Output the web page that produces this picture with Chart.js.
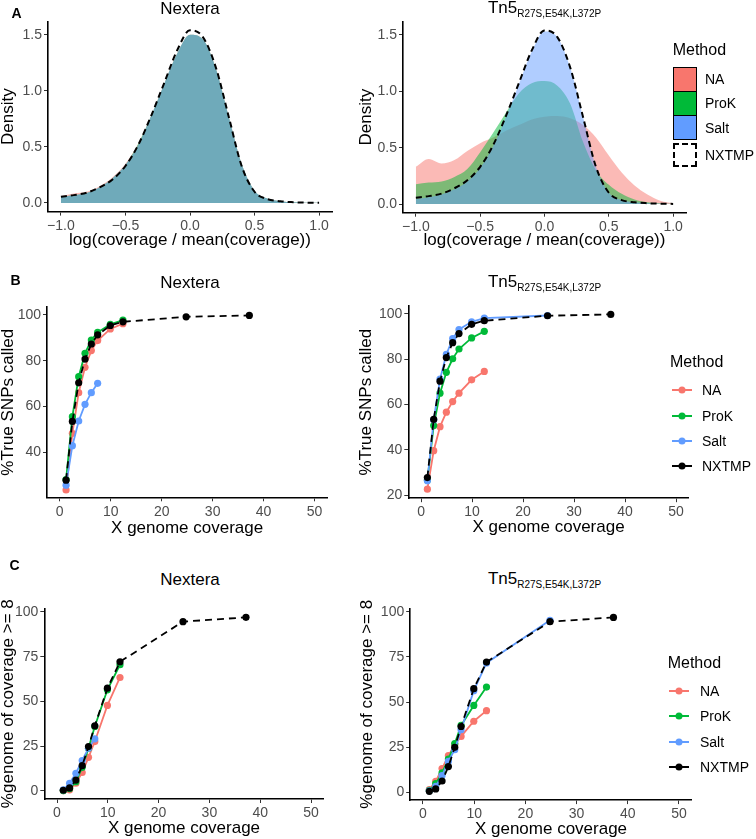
<!DOCTYPE html>
<html><head><meta charset="utf-8">
<script src="https://cdn.jsdelivr.net/npm/chart.js@4.4.1/dist/chart.umd.min.js"></script>
<style>
html,body{margin:0;padding:0;background:#fff;}
body{width:756px;height:839px;position:relative;overflow:hidden;font-family:"Liberation Sans",Arial,sans-serif;color:#000;}
canvas{position:absolute;}
.t{position:absolute;font-size:17px;line-height:17px;white-space:nowrap;transform:translate(-50%,-50%);}
.sub{font-size:10px;position:relative;top:4px;}
.lbl{position:absolute;font-weight:bold;font-size:14px;line-height:14px;transform:translate(-50%,-50%);}
.lgt{position:absolute;font-size:16px;line-height:16px;transform:translateY(-50%);white-space:nowrap;z-index:5;}
.lgi{position:absolute;font-size:14px;line-height:14px;transform:translateY(-50%);white-space:nowrap;z-index:5;}
.key{position:absolute;width:24px;height:25px;box-sizing:border-box;border:1.5px solid #000;z-index:5;}
.ln{position:absolute;width:20px;height:2px;transform:translateY(-50%);z-index:5;}
.dot{position:absolute;width:7px;height:7px;border-radius:50%;transform:translate(-50%,-50%);z-index:6;}
</style></head><body>
<script>
// ---------------- DATA ----------------
const methods = ['NA', 'ProK', 'Salt', 'NXTMP'];

// Panel A: density of log(coverage / mean(coverage))
const densityX = [-1.0,-0.9,-0.8,-0.7,-0.6,-0.5,-0.4,-0.3,-0.2,-0.1,0.0,0.1,0.2,0.3,0.4,0.5,0.6,0.7,0.8,0.9,1.0];
const nxtmpDensity      = [0.056,0.07,0.092,0.14,0.21,0.33,0.52,0.78,1.07,1.36,1.54,1.48,1.21,0.77,0.33,0.10,0.035,0.015,0.007,0.003,0.001];
const nexteraDensityNA  = [0.06,0.085,0.10,0.15,0.23,0.35,0.53,0.78,1.06,1.33,1.50,1.46,1.20,0.77,0.35,0.11,0.04,0.015,0.006,0.002,0.001];
const nexteraDensityProK= [0.055,0.07,0.09,0.14,0.22,0.34,0.53,0.78,1.06,1.33,1.50,1.46,1.20,0.77,0.35,0.11,0.04,0.015,0.006,0.002,0.001];
const nexteraDensitySalt= [0.055,0.07,0.09,0.14,0.22,0.34,0.52,0.78,1.06,1.33,1.50,1.46,1.20,0.77,0.35,0.11,0.04,0.015,0.006,0.002,0.001];
const tn5DensityNA      = [0.33,0.40,0.36,0.39,0.47,0.54,0.59,0.65,0.70,0.75,0.775,0.78,0.76,0.70,0.59,0.43,0.28,0.165,0.085,0.03,0.008];
const tn5DensityProK    = [0.175,0.19,0.20,0.24,0.31,0.46,0.63,0.81,0.98,1.07,1.09,1.05,0.89,0.55,0.30,0.17,0.09,0.04,0.015,0.005,0.002];
const tn5DensitySalt    = [0.045,0.06,0.085,0.13,0.20,0.32,0.51,0.77,1.06,1.35,1.53,1.48,1.21,0.77,0.33,0.10,0.035,0.015,0.007,0.003,0.001];
const densityXTicks  = [-1, -0.5, 0, 0.5, 1];
const densityXLabels = ['\u22121.0', '\u22120.5', '0.0', '0.5', '1.0'];
const densityYTicks  = [0, 0.5, 1, 1.5];
const densityYLabels = ['0.0', '0.5', '1.0', '1.5'];

// Panels B & C: X genome coverage
const coverageX = [1.24, 2.48, 3.72, 4.96, 6.2, 7.44, 9.92, 12.4, 24.8, 37.2];
const nxtmpSnp       = [27.7, 53.4, 70.3, 80.7, 87.3, 91.3, 95.4, 97.0, 99.2, 99.8];
const nexteraSnpNA   = [23.4, 48.2, 66.0, 77.1, 84.4, 88.8, 93.9, 96.2];
const nexteraSnpProK = [28.0, 55.5, 73.0, 83.2, 89.0, 92.4, 95.9, 97.7];
const nexteraSnpSalt = [25.5, 42.8, 53.6, 60.9, 66.0, 70.1];
const tn5SnpNA       = [22.6, 39.6, 50.2, 56.6, 61.3, 65.0, 70.9, 74.6];
const tn5SnpProK     = [26.6, 50.7, 65.0, 74.2, 80.2, 84.5, 89.4, 92.3];
const tn5SnpSalt     = [26.3, 53.2, 71.2, 82.1, 89.1, 93.1, 96.5, 98.1, 99.3];

const nxtmpCov       = [0.4, 1.7, 6.1, 14.1, 24.8, 36.4, 57.4, 72.2, 94.6, 97.0];
const nexteraCovNA   = [0.2, 0.6, 4.3, 10.3, 18.8, 27.6, 47.8, 63.4];
const nexteraCovProK = [0.2, 1.3, 5.2, 13.2, 23.9, 36.0, 56.5, 70.5];
const nexteraCovSalt = [0.6, 4.3, 9.9, 17.0, 23.9, 29.1];
const tn5CovNA       = [1.3, 5.9, 13.0, 20.2, 26.3, 30.9, 39.3, 45.2];
const tn5CovProK     = [0.9, 4.6, 10.6, 18.3, 26.9, 37.0, 48.1, 58.3];
const tn5CovSalt     = [0.7, 3.1, 9.1, 17.0, 23.5, 34.6, 56.3, 71.7, 95.4];

const coverageXTicks = [0, 10, 20, 30, 40, 50];
const coverageXLabels = ['0', '10', '20', '30', '40', '50'];
const snpYTicksLeft = [40, 60, 80, 100];
const snpYLabelsLeft = ['40', '60', '80', '100'];
const snpYTicksRight = [20, 40, 60, 80, 100];
const snpYLabelsRight = ['20', '40', '60', '80', '100'];
const covYTicks = [0, 25, 50, 75, 100];
const covYLabels = ['0', '25', '50', '75', '100'];

// ---------------- STYLE ----------------
const FONT = '"Liberation Sans", Arial, sans-serif';
Chart.defaults.font.family = FONT;
const COL = {NA: '#F8766D', ProK: '#00BA38', Salt: '#619CFF', NXTMP: '#000000'};
const FILL = {NA: 'rgba(248,118,109,0.5)', ProK: 'rgba(0,186,56,0.5)', Salt: 'rgba(97,156,255,0.5)'};

function pts(xs, ys) { return ys.map((y, i) => ({x: xs[i], y: y})); }
function densFill(ys, m) {
  return {label: m, data: pts(densityX, ys), fill: 'origin', backgroundColor: FILL[m],
    borderColor: 'rgba(0,0,0,0)', borderWidth: 0, pointRadius: 0, cubicInterpolationMode: 'monotone'};
}
function densLine(ys) {
  return {label: 'NXTMP', data: pts(densityX, ys), fill: false, borderColor: '#000', borderWidth: 2,
    borderDash: [6, 4], pointRadius: 0, cubicInterpolationMode: 'monotone'};
}
function covLine(ys, m) {
  const c = COL[m];
  return {label: m, data: pts(coverageX, ys), fill: false, borderColor: c, backgroundColor: c,
    borderWidth: 1.8, borderDash: m === 'NXTMP' ? [7, 5] : [], pointRadius: 3.6, pointBorderWidth: 0,
    pointBackgroundColor: c, tension: 0};
}
function scaleOpts(min, max, tv, tl, title) {
  return {
    type: 'linear', min: min, max: max,
    afterBuildTicks: s => { s.ticks = tv.map(v => ({value: v})); },
    grid: {display: true, drawOnChartArea: false, drawTicks: true, tickLength: 4, color: '#333333', lineWidth: 1},
    border: {display: true, color: '#000', width: 1.6},
    ticks: {color: '#4d4d4d', font: {size: 14}, padding: 2, autoSkip: false, maxRotation: 0,
      callback: (v, i) => tl[i]},
    title: {display: true, text: title, color: '#000', font: {size: 17, lineHeight: 1}, padding: 0}
  };
}
function makeChart(r, datasets, xs, ys) {
  const c = document.createElement('canvas');
  c.width = r.cw; c.height = r.ch;
  c.style.left = r.cx + 'px'; c.style.top = r.cy + 'px';
  c.style.width = r.cw + 'px'; c.style.height = r.ch + 'px';
  document.body.appendChild(c);
  xs.afterFit = s => { s.height = r.cy + r.ch - r.B; };
  ys.afterFit = s => { s.width = r.L - r.cx; };
  new Chart(c, {type: 'line', data: {datasets: datasets}, options: {
    responsive: false, animation: false, devicePixelRatio: 1, events: [],
    layout: {padding: {top: r.T - r.cy, right: r.cx + r.cw - r.R, left: 0, bottom: 0}},
    plugins: {legend: {display: false}, tooltip: {enabled: false}, title: {display: false}},
    scales: {x: xs, y: ys}
  }});
}

const XLAB_A = 'log(coverage / mean(coverage))';
const XLAB_BC = 'X genome coverage';

// Panel A
makeChart({cx: 0, cy: 0, cw: 345, ch: 249, L: 48, R: 332, T: 21.7, B: 211.6},
  [densLine(nxtmpDensity), densFill(nexteraDensitySalt, 'Salt'), densFill(nexteraDensityProK, 'ProK'), densFill(nexteraDensityNA, 'NA')],
  scaleOpts(-1.1, 1.1, densityXTicks, densityXLabels, XLAB_A),
  scaleOpts(-0.077, 1.617, densityYTicks, densityYLabels, 'Density'));
makeChart({cx: 358, cy: 0, cw: 340, ch: 249, L: 403, R: 686, T: 21.7, B: 212.7},
  [densLine(nxtmpDensity), densFill(tn5DensitySalt, 'Salt'), densFill(tn5DensityProK, 'ProK'), densFill(tn5DensityNA, 'NA')],
  scaleOpts(-1.1, 1.1, densityXTicks, densityXLabels, XLAB_A),
  scaleOpts(-0.077, 1.617, densityYTicks, densityYLabels, 'Density'));

// Panel B
makeChart({cx: 0, cy: 290, cw: 340, ch: 247, L: 47, R: 327.3, T: 307.2, B: 497.3},
  [covLine(nxtmpSnp, 'NXTMP'), covLine(nexteraSnpSalt, 'Salt'), covLine(nexteraSnpProK, 'ProK'), covLine(nexteraSnpNA, 'NA')],
  scaleOpts(-2.5, 52.5, coverageXTicks, coverageXLabels, XLAB_BC),
  scaleOpts(20.2, 103.4, snpYTicksLeft, snpYLabelsLeft, '%True SNPs called'));
makeChart({cx: 358, cy: 290, cw: 340, ch: 246, L: 408.3, R: 688.8, T: 306, B: 498.2},
  [covLine(nxtmpSnp, 'NXTMP'), covLine(tn5SnpSalt, 'Salt'), covLine(tn5SnpProK, 'ProK'), covLine(tn5SnpNA, 'NA')],
  scaleOpts(-2.5, 52.5, coverageXTicks, coverageXLabels, XLAB_BC),
  scaleOpts(18.6, 103.5, snpYTicksRight, snpYLabelsRight, '%True SNPs called'));

// Panel C
makeChart({cx: 0, cy: 590, cw: 340, ch: 247, L: 44.3, R: 323.7, T: 608.4, B: 799},
  [covLine(nxtmpCov, 'NXTMP'), covLine(nexteraCovSalt, 'Salt'), covLine(nexteraCovProK, 'ProK'), covLine(nexteraCovNA, 'NA')],
  scaleOpts(-2.5, 52.5, coverageXTicks, coverageXLabels, XLAB_BC),
  scaleOpts(-4.5, 102, covYTicks, covYLabels, '%genome of coverage >= 8'));
makeChart({cx: 359, cy: 590, cw: 340, ch: 248, L: 410.2, R: 691.8, T: 608.4, B: 800.1},
  [covLine(nxtmpCov, 'NXTMP'), covLine(tn5CovSalt, 'Salt'), covLine(tn5CovProK, 'ProK'), covLine(tn5CovNA, 'NA')],
  scaleOpts(-2.5, 52.5, coverageXTicks, coverageXLabels, XLAB_BC),
  scaleOpts(-4.5, 102, covYTicks, covYLabels, '%genome of coverage >= 8'));

// ---------------- TEXT / LEGENDS ----------------
function add(html) { document.body.insertAdjacentHTML('beforeend', html); }
const TN5 = 'Tn5<span class="sub">R27S,E54K,L372P</span>';
add('<div class="lbl" style="left:16.5px;top:13px">A</div>');
add('<div class="lbl" style="left:15.5px;top:280px">B</div>');
add('<div class="lbl" style="left:14.5px;top:565px">C</div>');
add('<div class="t" style="left:190px;top:7.8px">Nextera</div>');
add('<div class="t" style="left:544.5px;top:8.3px">' + TN5 + '</div>');
add('<div class="t" style="left:190px;top:282px">Nextera</div>');
add('<div class="t" style="left:544.5px;top:282px">' + TN5 + '</div>');
add('<div class="t" style="left:190px;top:579px">Nextera</div>');
add('<div class="t" style="left:544.5px;top:578.8px">' + TN5 + '</div>');

// Legend A (fill keys)
add('<div class="lgt" style="left:672.7px;top:50px">Method</div>');
const keyTops = [66.5, 90.5, 115];
['NA', 'ProK', 'Salt'].forEach((m, i) => {
  add('<div class="key" style="left:673px;top:' + keyTops[i] + 'px;background:' + COL[m] + '"></div>');
  add('<div class="lgi" style="left:705px;top:' + (keyTops[i] + 12.5) + 'px">' + m + '</div>');
});
add('<div class="key" style="left:673px;top:143px;height:24px;border:2px dashed #000;background:transparent"></div>');
add('<div class="lgi" style="left:705px;top:155px">NXTMP</div>');

// Legends B & C (line + point keys)
function lineLegend(titleX, titleY, lineX, textX, rows) {
  add('<div class="lgt" style="left:' + titleX + 'px;top:' + titleY + 'px">Method</div>');
  methods.forEach((m, i) => {
    const y = rows[i];
    add('<div class="ln" style="left:' + lineX + 'px;top:' + y + 'px;background:' + COL[m] + '"></div>');
    add('<div class="dot" style="left:' + (lineX + 10) + 'px;top:' + y + 'px;background:' + COL[m] + '"></div>');
    add('<div class="lgi" style="left:' + textX + 'px;top:' + y + 'px">' + m + '</div>');
  });
}
lineLegend(670, 362, 672, 702, [390, 415.7, 441, 465.5]);
lineLegend(667.7, 663.3, 669, 700, [691, 716, 741.5, 767]);
</script>
</body></html>
